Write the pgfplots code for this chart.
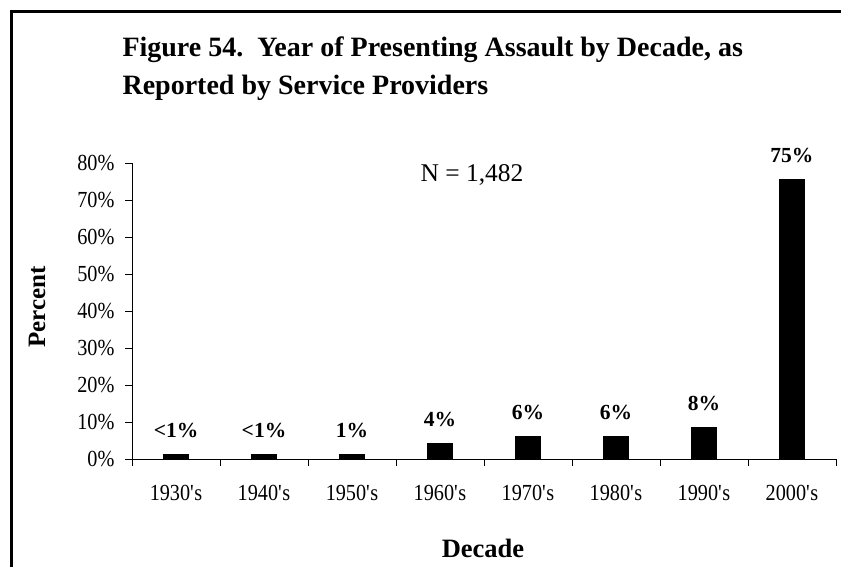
\documentclass[border=0pt]{standalone}
\usepackage{fontspec}
\setmainfont{Liberation Serif}
\newfontfamily\tickfont{Liberation Serif}[FakeStretch=0.88]
\usepackage{pgfplots}
\pgfplotsset{compat=1.18}
\pgfplotstableread{
x y label
0 1.3 {<1\%}
1 1.3 {<1\%}
2 1.3 {1\%}
3 4.3 {4\%}
4 6.2 {6\%}
5 6.2 {6\%}
6 8.6 {8\%}
7 75.6 {75\%}
}\datatable
\begin{document}
\begin{tikzpicture}
\path[use as bounding box] (0pt,0pt) rectangle (841pt,-567pt);
\draw[line width=3.6pt] (11.4pt,-567pt) -- (11.4pt,-11.6pt) -- (841pt,-11.6pt);
\node[anchor=base west, font=\bfseries\fontsize{28}{34}\selectfont] at (119pt,-57pt) {Figure 54.\ \ Year of Presenting Assault by Decade, as};
\node[anchor=base west, font=\bfseries\fontsize{28}{34}\selectfont] at (119pt,-95pt) {Reported by Service Providers};
\node[rotate=90, font=\bfseries\fontsize{25}{30}\selectfont] at (37pt,-307pt) {Percent};
\node[anchor=base, font=\bfseries\fontsize{26.5}{30}\selectfont] at (483pt,-557pt) {Decade};
\node[anchor=base, font=\fontsize{25.5}{30}\selectfont] at (472pt,-182pt) {N = 1,482};
\begin{axis}[
  at={(132pt,-459pt)}, anchor=south west,
  scale only axis, width=704pt, height=296pt,
  xmin=-0.5, xmax=7.5, ymin=0, ymax=80,
  axis x line*=bottom, axis y line*=left,
  axis line style={-, line width=0.9pt, black},
  xtick={0,...,7},
  xticklabels={1930\textquotesingle s,1940\textquotesingle s,1950\textquotesingle s,1960\textquotesingle s,1970\textquotesingle s,1980\textquotesingle s,1990\textquotesingle s,2000\textquotesingle s},
  major x tick style={draw=none},
  minor xtick={-0.5,0.5,...,7.5},
  minor x tick style={line width=0.9pt, black},
  ytick={0,10,...,80},
  yticklabels={0\%,10\%,20\%,30\%,40\%,50\%,60\%,70\%,80\%},
  y tick style={line width=0.9pt, black},
  tick align=outside,
  major tick length=7pt, minor tick length=7pt,
  tick label style={font=\tickfont\fontsize{23}{27}\selectfont},
  xticklabel style={anchor=base, yshift=-34pt},
  yticklabel style={anchor=east, xshift=-7pt},
  ybar, bar width=25pt,
  nodes near coords,
  point meta=explicit symbolic,
  every node near coord/.append style={anchor=base, yshift=17pt, font=\bfseries\fontsize{21.5}{25}\selectfont},
  clip=false,
]
\addplot[fill=black, draw=black] table[x=x, y=y, meta=label] {\datatable};
\end{axis}
\end{tikzpicture}
\end{document}
